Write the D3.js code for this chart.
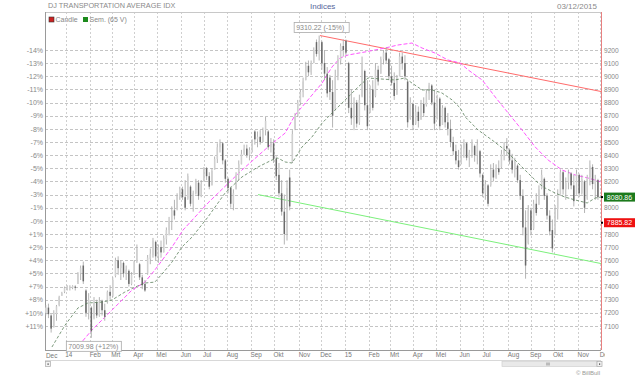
<!DOCTYPE html>
<html><head><meta charset="utf-8">
<script src="https://cdn.jsdelivr.net/npm/d3@7"></script>
<style>body{margin:0;background:#fff;} svg{display:block;font-family:Arial,"Liberation Sans",sans-serif;}</style>
</head><body><svg id="c" width="640" height="377"></svg>
<script>
// ---- data (half-weekly candles, Dec 2013 - Dec 2015) ----
const openP=[7200,7240,7180,7090,7190,7260,7330,7360,7380,7390,7390,7400,7420,7500,7560,7370,7200,7240,7160,7280,7180,7290,7220,7280,7360,7330,7480,7600,7540,7580,7500,7520,7420,7490,7590,7570,7470,7420,7500,7610,7640,7740,7630,7700,7660,7760,7830,7900,7980,7990,8080,8140,8080,8070,8160,8030,8110,8190,8090,8200,8300,8240,8170,8290,8370,8460,8490,8360,8220,8150,8030,8140,8250,8330,8410,8450,8400,8440,8580,8520,8540,8500,8590,8580,8460,8490,8370,8250,8110,7970,7800,8230,8350,8600,8700,8800,8880,8970,9080,9030,9100,9260,9170,9260,9100,9020,8990,8880,8750,9000,9120,9230,9270,9100,8760,8680,8800,8650,8850,9040,8780,8730,8900,8850,9050,9020,9130,9180,9130,9000,8950,8860,9000,9150,9100,8960,8680,8790,8640,8730,8670,8790,8780,8870,8930,8800,8680,8830,8630,8760,8650,8600,8500,8430,8360,8340,8450,8490,8380,8420,8470,8400,8430,8250,8110,8170,8170,8290,8230,8300,8310,8410,8470,8440,8360,8290,8320,8210,8090,7850,7730,7980,7840,8030,8030,8150,8220,8090,7940,7830,7800,7990,8100,8270,8140,8190,8260,8170,8100,8250,8110,8200,8070,8230,8310,8180,8210];
const highP=[7260,7270,7190,7220,7260,7330,7360,7400,7410,7410,7410,7410,7510,7560,7590,7380,7350,7250,7320,7300,7320,7300,7270,7370,7410,7470,7620,7630,7600,7590,7560,7530,7510,7600,7720,7580,7490,7450,7640,7690,7770,7750,7720,7750,7790,7850,7930,8010,8060,8110,8160,8160,8210,8260,8170,8130,8220,8210,8210,8310,8310,8270,8300,8390,8490,8520,8500,8370,8230,8160,8140,8270,8360,8440,8480,8480,8460,8520,8590,8580,8590,8610,8690,8590,8530,8520,8390,8340,8210,8100,8210,8290,8590,8720,8820,8900,8990,9110,9120,9120,9220,9280,9310,9270,9200,9070,9010,8970,9050,9160,9250,9280,9280,9110,8900,8840,8820,8860,9150,9050,8970,8930,8970,9100,9080,9150,9200,9220,9140,9080,9030,9010,9180,9180,9160,8970,8840,8800,8780,8770,8820,8840,8900,8950,8940,8900,8860,8840,8780,8770,8720,8670,8540,8480,8440,8480,8520,8500,8440,8520,8480,8520,8440,8260,8210,8180,8330,8340,8330,8360,8440,8500,8530,8450,8410,8380,8330,8250,8140,7980,8020,8000,8060,8110,8170,8290,8230,8110,7980,7910,8020,8140,8290,8280,8230,8290,8270,8250,8290,8260,8250,8210,8250,8360,8330,8250,8220];
const lowP=[7180,7160,7050,7090,7140,7250,7330,7350,7370,7370,7380,7370,7420,7450,7420,7170,7150,7010,7150,7160,7170,7180,7140,7270,7300,7320,7470,7490,7450,7470,7450,7400,7410,7490,7580,7450,7380,7360,7490,7570,7620,7600,7580,7620,7660,7720,7790,7830,7910,7980,8060,8060,7980,8060,8010,7970,8100,8060,8080,8200,8210,8140,8170,8290,8340,8420,8330,8190,8110,8000,7980,8140,8210,8330,8400,8380,8360,8420,8480,8460,8480,8500,8550,8440,8420,8340,8210,8080,7940,7720,7750,7980,8340,8590,8690,8780,8840,8970,9000,9010,9100,9150,9120,9050,8970,8840,8820,8610,8740,8970,9090,9150,9160,8720,8630,8590,8610,8630,8840,8740,8590,8720,8740,8840,8930,9020,9090,9100,8970,8930,8820,8860,9000,9050,8970,8610,8670,8590,8630,8610,8670,8690,8770,8820,8780,8590,8670,8590,8630,8610,8550,8460,8400,8330,8290,8330,8380,8360,8310,8380,8350,8330,8230,8080,8060,8010,8160,8200,8220,8250,8300,8360,8400,8330,8260,8230,8190,8060,7790,7460,7720,7790,7830,7940,8020,8140,8060,7910,7790,7660,7790,7910,8100,8100,8060,8140,8140,8010,8100,8080,8100,7960,8060,8170,8140,8060,8060];
const closeP=[7240,7190,7080,7200,7250,7320,7350,7390,7400,7400,7405,7390,7500,7540,7440,7200,7300,7060,7280,7180,7290,7220,7170,7360,7330,7450,7600,7540,7580,7500,7530,7420,7490,7590,7690,7470,7410,7370,7620,7650,7750,7630,7700,7660,7770,7830,7900,7980,7940,8090,8140,8080,8000,8240,8030,8110,8200,8090,8180,8300,8240,8160,8280,8370,8460,8490,8360,8220,8150,8030,8110,8250,8330,8410,8450,8400,8440,8500,8520,8540,8500,8590,8660,8460,8490,8370,8240,8110,7970,7800,8150,8010,8560,8700,8800,8880,8960,9080,9030,9100,9200,9170,9270,9100,9020,8870,8880,8700,9000,9130,9230,9200,9180,8760,8680,8800,8640,8820,9100,8780,8620,8900,8760,9050,8960,9130,9180,9120,9000,8950,8850,8990,9150,9100,9000,8650,8800,8630,8730,8660,8790,8720,8870,8930,8800,8640,8830,8620,8760,8650,8600,8500,8430,8360,8310,8450,8490,8380,8420,8500,8400,8480,8260,8110,8180,8030,8290,8230,8300,8270,8410,8470,8450,8360,8290,8350,8210,8090,7850,7560,7980,7830,8030,7960,8140,8250,8090,7940,7820,7690,7990,8100,8270,8140,8190,8260,8170,8050,8260,8110,8220,8000,8230,8320,8180,8210,8080];
const firstCandle=new Date(2013,11,7), candleStepDays=3.5;

// 65-day moving average (points at candle positions)
const smaIdx=[2.3,7.2,12,15.7,21,24.7,29.5,33.3,37,40.7,43.7,47.1,50.8,54.6,60.5,66.9,73.2,79.2,84.4,86.6,89.3,91.9,95.6,99.3,103.1,107.9,112.8,116.5,120.2,125.4,130.3,134,136.6,140.4,144.1,147.8,151.6,154.6,156.5,161.3,166.5,171.3,176.2,179.9,183.7,186.3,190,193.7,197.5,202,205,207.2];
const smaVal=[6940,7107,7237,7275,7282,7298,7358,7396,7427,7434,7503,7587,7701,7777,7929,8112,8234,8310,8363,8378,8348,8340,8462,8538,8644,8743,8842,8918,8987,8979,8972,8987,8949,8896,8896,8873,8820,8759,8690,8591,8515,8439,8340,8264,8188,8150,8112,8081,8059,8036,8074,8081];
// magenta long-term line
const magIdx=[10.9,17.2,24.7,32.2,37,40.7,47.1,51.2,60.5,73.2,82.9,89.3,93,97.8,103.1,106.8,109.8,112.8,119.1,126.6,131.4,136.6,140.4,145.2,150,154.6,157.6,162.8,167.7,172.5,177.7,182.6,187.4,192.6,197.5,202.3,207.2];
const magVal=[6917,7069,7221,7374,7434,7526,7701,7830,8036,8287,8462,8568,8705,8820,8949,9071,9139,9162,9185,9215,9238,9253,9215,9177,9124,9101,9048,8972,8842,8721,8591,8462,8363,8287,8249,8226,8196];
// trend lines
const redTrendIdx=[102.3,207.2], redTrendVal=[9310,8884];
const greenTrendIdx=[79.2,207.2], greenTrendVal=[8100,7575];

const priceTicks=[9200,9100,9000,8900,8800,8700,8600,8500,8400,8300,8200,8100,8000,7900,7800,7700,7600,7500,7400,7300,7200,7100];
const pctLabels=["-14%","-13%","-12%","-11%","-10%","-9%","-8%","-7%","-6%","-5%","-4%","-3%","-1%","-0%","+1%","+2%","+4%","+5%","+7%","+8%","+10%","+11%"];
const monthLabels=["Jan","Feb","Mrt","Apr","Mei","Jun","Jul","Aug","Sep","Okt","Nov","Dec"];
const lastValues=[{v:8080.86,label:"8080.86",color:"#1c7a1c"},{v:7885.82,label:"7885.82",color:"#ee1111"}];
const highNote={idx:102,v:9310.22,text:"9310.22 (-15%)"}, lowNote={idx:17,v:7009.98,text:"7009.98 (+12%)"};

// ---- chart ----
const svg=d3.select("#c");
const L=45,R=601,T=12,B=350;
const x=d3.scaleTime().domain([new Date(2013,11,6),new Date(2015,11,2)]).range([L,R]);
const y=d3.scaleLinear().domain([6917.4,9489.1]).range([B,T]);
const dOf=i=>new Date(firstCandle.getTime()+i*candleStepDays*864e5);

svg.append("defs").append("clipPath").attr("id","plot").append("rect").attr("x",L).attr("y",T).attr("width",R-L).attr("height",B-T);
svg.select("defs").append("clipPath").attr("id","xax").append("rect").attr("x",40).attr("y",B).attr("width",565).attr("height",20);

// month gridline dates (first trading day)
const months=d3.timeMonth.range(new Date(2014,0,1),new Date(2015,11,2)).map(m=>{
  const d=new Date(m); if(d.getMonth()===0&&d.getDate()===1)d.setDate(2);
  while(d.getDay()===0||d.getDay()===6)d.setDate(d.getDate()+1); return d;});

const grid=svg.append("g");
grid.selectAll(".h").data(priceTicks).join("line").attr("x1",L).attr("x2",R)
 .attr("y1",d=>Math.round(y(d))+0.5).attr("y2",d=>Math.round(y(d))+0.5)
 .attr("stroke","#c4c4c4").attr("stroke-dasharray","3,2").attr("stroke-width",1);
grid.selectAll(".v").data(months).join("line").attr("y1",T).attr("y2",B)
 .attr("x1",d=>Math.round(x(d))+0.5).attr("x2",d=>Math.round(x(d))+0.5)
 .attr("stroke","#cfcfcf").attr("stroke-dasharray","2,2").attr("stroke-width",1);

// frame
svg.append("line").attr("x1",L).attr("x2",R).attr("y1",T+0.5).attr("y2",T+0.5).attr("stroke","#c8c8c8");
svg.append("line").attr("x1",L+0.5).attr("x2",L+0.5).attr("y1",T).attr("y2",B).attr("stroke","#9a9a9a");
svg.append("line").attr("x1",L).attr("x2",R).attr("y1",B+0.5).attr("y2",B+0.5).attr("stroke","#9a9a9a");

const plot=svg.append("g").attr("clip-path","url(#plot)");
// trend lines
const ln=d3.line().x(d=>x(dOf(d[0]))).y(d=>y(d[1]));
plot.append("path").attr("d",ln(redTrendIdx.map((d,i)=>[d,redTrendVal[i]]))).attr("fill","none").attr("stroke","#ff6b6b").attr("stroke-width",1);
plot.append("path").attr("d",ln(greenTrendIdx.map((d,i)=>[d,greenTrendVal[i]]))).attr("fill","none").attr("stroke","#7cf07c").attr("stroke-width",1);
// magenta
plot.append("path").attr("d",ln(magIdx.map((d,i)=>[d,magVal[i]]))).attr("fill","none").attr("stroke","#ff55ff").attr("stroke-width",1).attr("stroke-dasharray","4,2");
// candles
const cg=plot.append("g");
openP.forEach((o,i)=>{
  const cx=x(dOf(i)), c=closeP[i], up=c>=o;
  cg.append("line").attr("x1",cx).attr("x2",cx).attr("y1",y(highP[i])).attr("y2",y(lowP[i])).attr("stroke","#ababab").attr("stroke-width",0.9);
  const top=y(Math.max(o,c)), bot=y(Math.min(o,c));
  cg.append("rect").attr("x",cx-0.75).attr("width",1.5).attr("y",top).attr("height",Math.max(1,bot-top))
    .attr("fill",up?"#d0d0d0":"#6a6a6a");
});
// SMA
plot.append("path").attr("d",ln(smaIdx.map((d,i)=>[d,smaVal[i]]))).attr("fill","none").attr("stroke","#5a7f5a").attr("stroke-width",0.8).attr("stroke-dasharray","3,2");

// right border
svg.append("line").attr("x1",R+0.5).attr("x2",R+0.5).attr("y1",T).attr("y2",B).attr("stroke","#e88080");

// axes
const fc="#888";
const hidden=v=>lastValues.some(d=>Math.abs(y(d.v)-y(v))<7);
const ra=svg.append("g").attr("transform",`translate(${R},0)`).call(d3.axisRight(y).tickValues(priceTicks.filter(v=>!hidden(v))).tickSize(0).tickPadding(3).tickFormat(d3.format("d")));
ra.select(".domain").remove(); ra.selectAll("text").attr("font-size","6.6px").attr("fill",fc).attr("font-family","Arial");
const la=svg.append("g").attr("transform",`translate(${L},0)`).call(d3.axisLeft(y).tickValues(priceTicks).tickSize(0).tickPadding(2).tickFormat((d,i)=>pctLabels[i]));
la.select(".domain").remove(); la.selectAll("text").attr("font-size","7px").attr("fill",fc).attr("font-family","Arial");
const ba=svg.append("g").attr("clip-path","url(#xax)").append("g").attr("transform",`translate(0,${B})`)
 .call(d3.axisBottom(x).tickValues(months).tickSize(0).tickPadding(2).tickFormat(d=>d.getMonth()===0?String(d.getFullYear()).slice(2):monthLabels[d.getMonth()]));
ba.select(".domain").remove(); ba.selectAll("text").attr("text-anchor","start").attr("dx","-1").attr("font-size","6.4px").attr("fill","#777").attr("font-family","Arial");
svg.append("text").attr("x",L+1).attr("y",B+7.5).attr("font-size","6.4px").attr("fill","#777").text(monthLabels[11]);

// last value labels
lastValues.forEach(d=>{
  const yy=y(d.v);
  svg.append("rect").attr("x",604).attr("y",yy-4.5).attr("width",31).attr("height",9).attr("fill",d.color);
  svg.append("text").attr("x",619.5).attr("y",yy+2.5).attr("text-anchor","middle").attr("font-size","7px").attr("fill","#fff").text(d.label);
  svg.append("rect").attr("x",R).attr("y",yy-1).attr("width",2).attr("height",2).attr("fill","#000");
});

// notes
function note(n,above){
  const px=x(dOf(n.idx)), py=y(n.v);
  const g=svg.append("g");
  const t=g.append("text").attr("font-size","7px").attr("fill","#888").text(n.text);
  const w=55, h=10;
  const bx=px-25, by=above?py-13:py+3.5;
  g.insert("rect","text").attr("x",bx).attr("y",by).attr("width",w).attr("height",h).attr("fill","#fff").attr("stroke","#aaa").attr("stroke-width",0.8);
  t.attr("x",bx+2).attr("y",by+7.5);
}
note(highNote,true); note(lowNote,false);

// titles
svg.append("text").attr("x",48).attr("y",8.3).attr("font-size","7.3px").attr("fill","#8a8a8a").text("DJ TRANSPORTATION AVERAGE IDX");
svg.append("text").attr("x",310).attr("y",8.5).attr("font-size","8px").attr("fill","#55659a").text("Indices");
svg.append("text").attr("x",597).attr("y",8.5).attr("text-anchor","end").attr("font-size","8px").attr("fill","#8a8a8a").text("03/12/2015");

// legend
const lg=svg.append("g");
lg.append("rect").attr("x",49).attr("y",17).attr("width",5).attr("height",5).attr("fill","#cc2222").attr("stroke","#333").attr("stroke-width",0.6);
lg.append("text").attr("x",55.5).attr("y",21.7).attr("font-size","7px").attr("fill","#888").text("Candle");
lg.append("rect").attr("x",83).attr("y",17).attr("width",5).attr("height",5).attr("fill","#1c8a1c");
lg.append("text").attr("x",89.5).attr("y",21.7).attr("font-size","7px").attr("fill","#888").text("Sem. (65 V)");

// scrollbar
svg.append("line").attr("x1",L).attr("x2",R).attr("y1",360.5).attr("y2",360.5).attr("stroke","#d8d8d8");
svg.append("rect").attr("x",45.5).attr("y",361.5).attr("width",5).attr("height",5).attr("fill","#f2f2f2").attr("stroke","#aaa").attr("stroke-width",0.7);
svg.append("rect").attr("x",47.5).attr("y",363.5).attr("width",1.2).attr("height",1.2).attr("fill","#333");
svg.append("rect").attr("x",502).attr("y",361.5).attr("width",95).attr("height",5).attr("fill","#e9e9e9").attr("stroke","#d0d0d0").attr("stroke-width",0.7);
svg.append("rect").attr("x",546).attr("y",362.5).attr("width",4).attr("height",3).attr("fill","#bbb");
svg.append("rect").attr("x",597).attr("y",361.5).attr("width",5).attr("height",5).attr("fill","#f2f2f2").attr("stroke","#aaa").attr("stroke-width",0.7);
svg.append("rect").attr("x",599).attr("y",363.5).attr("width",1.2).attr("height",1.2).attr("fill","#333");
svg.append("text").attr("x",600).attr("y",375).attr("text-anchor","end").attr("font-size","6px").attr("fill","#999").text("© BillBull");
</script></body></html>
